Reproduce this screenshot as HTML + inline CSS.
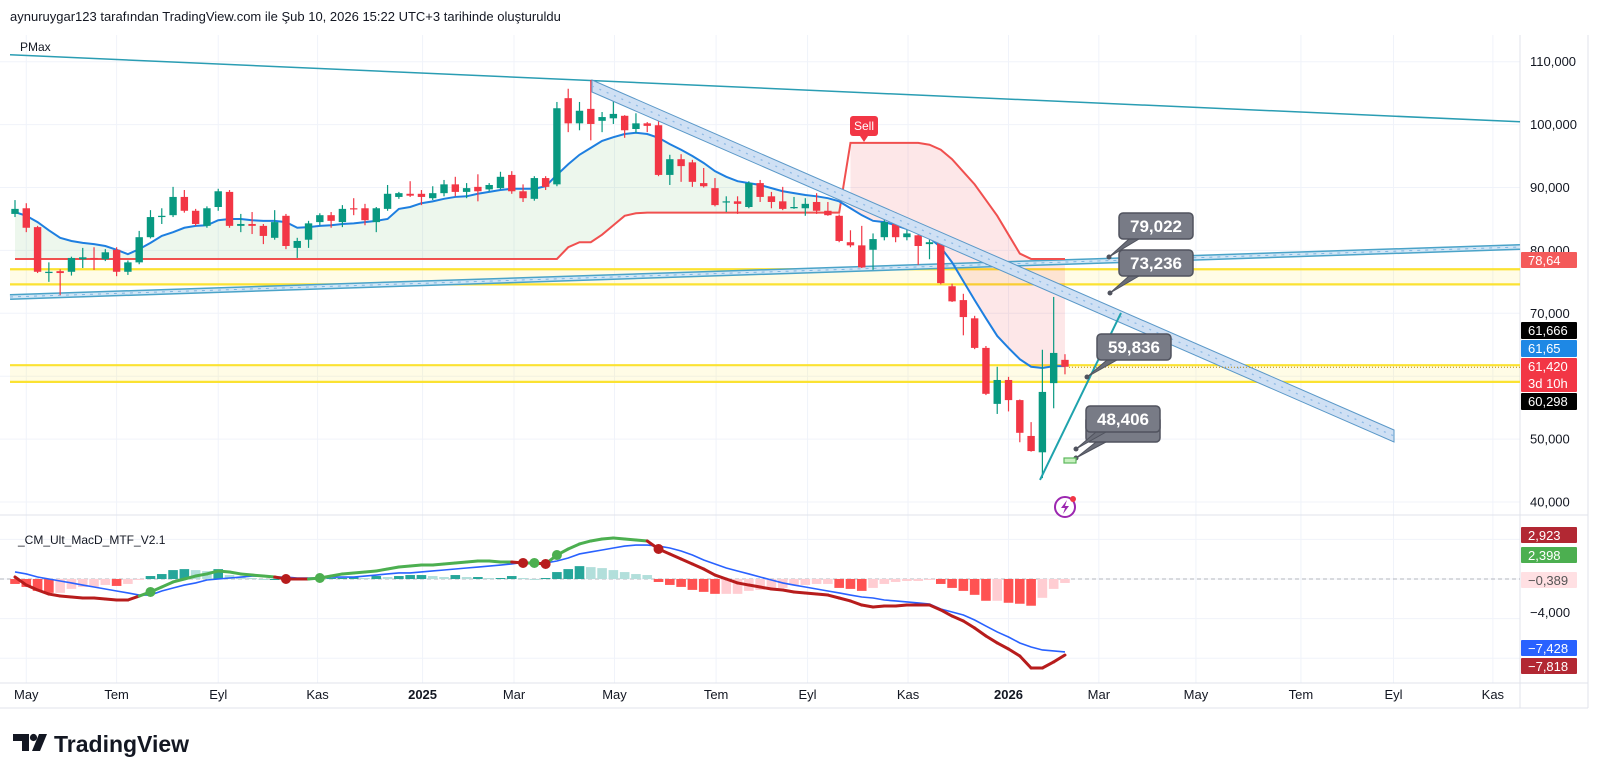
<!DOCTYPE html>
<html><head><meta charset="utf-8"><style>
html,body{margin:0;padding:0;background:#fff;}
svg{display:block;font-family:"Liberation Sans",sans-serif;}
</style></head><body>
<svg id="chart" width="1600" height="776" viewBox="0 0 1600 776" xmlns="http://www.w3.org/2000/svg">
<rect x="0" y="0" width="1600" height="776" fill="#ffffff"/>
<text x="10" y="21" font-size="13" fill="#131722">aynuruygar123 tarafından TradingView.com ile Şub 10, 2026 15:22 UTC+3 tarihinde oluşturuldu</text>
<g id="grid"></g>
<g id="main"></g>
<g id="macd"></g>
<g id="axes"></g>
<text x="20" y="51" font-size="12" fill="#131722">PMax</text>
<text x="18" y="544" font-size="12" fill="#131722">_CM_Ult_MacD_MTF_V2.1</text>
<g>
<path d="M13 734 H29 V751 H22 V741 H13 Z" fill="#131722"/>
<circle cx="33.5" cy="737.5" r="3.6" fill="#131722"/>
<path d="M39 734 H47 L40 751 H32 Z" fill="#131722"/>
<text x="54" y="752" font-size="23" font-weight="bold" fill="#131722">TradingView</text>
</g>
</svg>
<script>
// ---- data (prices in thousands) ----
const opens=[85.8,86.7,83.7,76.4,76.7,76.6,78.6,78.8,78.6,80.1,76.6,78.1,82.1,85.3,85.6,88.5,86.3,83.9,86.9,89.3,83.9,84.2,83.9,82.0,85.5,80.4,81.7,84.5,85.6,84.5,86.7,86.7,84.5,86.6,88.5,89.0,89.0,88.3,89.1,90.5,89.3,90.1,89.7,89.9,92.0,89.4,88.2,91.5,90.5,104.2,100.2,102.5,100.6,101.0,101.4,99.3,100.2,99.9,92.0,94.5,94.0,90.7,89.9,87.7,87.8,86.9,90.7,88.6,87.8,86.7,86.7,87.7,86.3,85.5,81.3,80.8,80.1,82.1,84.2,82.1,82.4,81.0,81.2,74.3,72.1,69.2,64.5,55.6,59.4,56.2,50.5,47.9,58.9,62.6];
const highs=[88.0,87.5,83.9,78.1,77.0,79.0,80.4,80.5,80.2,80.5,78.4,83.1,86.4,86.7,90.1,89.6,86.6,87.0,89.8,89.6,85.8,86.1,84.2,86.4,85.8,82.0,84.7,85.9,86.1,87.2,88.3,87.4,86.9,90.4,89.3,91.0,89.6,90.2,91.2,91.7,90.7,92.1,90.7,92.5,92.6,90.5,91.8,91.8,103.6,105.7,103.6,107.1,102.0,104.4,101.5,101.8,100.4,101.0,95.2,95.3,94.4,93.1,91.5,88.6,88.6,91.0,91.2,89.3,90.1,88.5,88.3,89.1,87.7,85.7,83.2,83.9,82.7,86.4,86.1,83.5,84.0,82.7,81.5,74.7,73.1,69.6,64.8,61.5,59.9,56.3,52.7,64.2,72.6,63.5];
const lows=[85.3,82.9,76.4,75.0,72.9,76.0,77.2,76.9,78.3,75.9,76.1,77.8,81.9,84.2,85.3,86.0,83.9,83.6,86.3,83.6,82.9,82.6,81.0,81.7,80.2,78.8,80.4,84.0,83.6,83.7,85.6,84.0,82.9,86.3,88.2,88.5,87.2,88.0,88.6,88.6,88.3,87.8,89.4,89.7,89.0,87.7,87.9,89.6,90.2,98.8,99.1,97.5,98.8,100.1,97.9,98.7,98.8,91.8,90.4,90.9,90.1,90.0,87.0,86.1,85.8,86.7,87.7,86.7,86.4,86.6,85.5,85.8,85.5,81.3,80.5,77.2,76.9,81.6,81.3,81.6,77.7,78.6,74.6,71.8,66.5,64.3,57.0,54.0,54.4,49.5,48.0,43.8,54.9,60.3];
const closes=[86.6,83.6,76.6,76.6,76.4,78.8,78.9,78.6,79.7,76.6,78.1,82.1,85.3,85.5,88.5,86.3,84.2,86.7,89.4,83.9,84.2,83.9,82.3,84.5,80.7,81.5,84.3,85.6,84.7,86.6,86.6,84.8,86.7,89.0,89.1,88.7,88.5,89.1,90.5,89.3,89.9,89.4,90.4,91.7,89.4,88.3,91.5,90.1,102.6,100.2,102.2,100.1,101.2,101.7,99.1,100.2,99.8,92.0,94.5,93.4,90.9,90.2,87.2,87.8,87.4,90.7,88.5,87.7,86.6,86.9,87.4,86.3,85.6,81.5,80.8,77.3,81.8,84.5,82.1,82.7,80.7,81.3,74.8,71.9,69.4,64.5,57.2,59.4,56.2,51.0,48.1,57.5,63.7,61.5];
const maLine=[86.1,85.5,84.5,83.2,82.0,81.5,81.2,81.0,80.7,80.1,79.4,80.2,81.2,82.3,82.9,83.6,83.9,84.0,84.8,85.0,85.0,84.8,84.7,84.7,84.5,83.6,83.7,83.9,84.0,84.2,84.3,84.5,84.7,85.0,86.6,86.9,87.5,87.8,88.2,88.5,88.6,89.0,89.3,89.6,89.8,89.8,89.8,90.2,92.0,93.7,95.2,96.3,97.4,98.0,98.5,98.7,98.5,97.9,96.9,96.0,95.0,93.9,92.6,91.7,91.0,90.7,90.4,89.9,89.4,89.1,88.8,88.6,88.3,87.8,86.7,85.6,84.7,84.5,84.0,83.4,82.8,82.0,80.5,78.1,75.1,72.1,69.2,66.4,64.5,62.7,61.5,61.3,61.6,61.6];
const pmaxLine=[78.64,78.64,78.64,78.64,78.64,78.64,78.64,78.64,78.64,78.64,78.64,78.64,78.64,78.64,78.64,78.64,78.64,78.64,78.64,78.64,78.64,78.64,78.64,78.64,78.64,78.64,78.64,78.64,78.64,78.64,78.64,78.64,78.64,78.64,78.64,78.64,78.64,78.64,78.64,78.64,78.64,78.64,78.64,78.64,78.64,78.64,78.64,78.64,78.64,80.5,81.3,81.3,82.5,84.0,85.5,85.9,86.0,86.0,86.0,86.0,86.0,86.0,86.0,86.0,86.0,86.0,86.0,86.0,86.0,86.0,86.0,86.0,86.0,86.0,97.1,97.1,97.1,97.1,97.1,97.1,97.1,96.8,96.0,94.5,92.5,90.5,88.0,85.5,82.5,79.5,78.64,78.64,78.64,78.64];
const macdLine=[200,-610,-1110,-1520,-1720,-1820,-1920,-1920,-2020,-2120,-2120,-1720,-1310,-810,-300,0,300,510,810,710,510,400,300,200,0,0,0,100,300,510,610,710,810,1010,1210,1310,1410,1410,1520,1620,1720,1820,1820,1720,1720,1620,1620,1520,2420,3030,3540,3840,4040,4140,4040,3940,3840,3030,2530,2020,1520,1010,400,0,-400,-610,-810,-1010,-1110,-1310,-1410,-1520,-1620,-1920,-2220,-2630,-2830,-2730,-2730,-2630,-2630,-2630,-3130,-3740,-4240,-4950,-5760,-6460,-7070,-7780,-8990,-8990,-8380,-7680];
const signalLine=[710,510,200,0,-200,-400,-610,-810,-1010,-1210,-1410,-1620,-1620,-1210,-910,-610,-400,-100,0,100,200,300,300,200,200,100,100,100,200,200,200,300,400,510,610,610,710,810,910,1010,1110,1210,1310,1410,1520,1680,1620,1620,1820,2120,2530,2730,2930,3130,3330,3430,3430,3330,3130,2830,2420,1920,1520,1110,810,510,200,-100,-400,-610,-810,-1010,-1210,-1410,-1620,-1820,-1920,-2120,-2220,-2320,-2420,-2530,-3030,-3330,-3640,-4140,-4750,-5350,-5860,-6460,-6870,-7170,-7270,-7370];
const histValues=[-500,-800,-1200,-1400,-1400,-1000,-800,-800,-600,-700,-500,-100,300,500,900,1000,900,800,1000,400,200,100,0,0,0,0,100,100,100,100,200,100,300,200,300,400,400,300,200,400,200,200,100,100,300,100,0,100,700,1000,1300,1200,1100,900,700,500,400,-300,-600,-800,-1100,-1300,-1500,-1500,-1500,-1200,-1100,-900,-900,-600,-600,-500,-500,-900,-1000,-1200,-900,-500,-300,-200,-200,-100,-500,-900,-1200,-1600,-2200,-2200,-2400,-2500,-2700,-1900,-1000,-400];
const priceTicks=[110,100,90,80,70,60,50,40];
const priceTickLabels=["110,000","100,000","90,000","80,000","70,000","","50,000","40,000"];
const macdTicks=[4000,0,-4000,-8000];
const timeTickIdx=[1.0,9.0,18.0,26.8,36.1,44.2,53.1,62.1,70.2,79.1,88.0,96.0,104.6,113.9,122.1,130.9];
const timeTickLabels=["May","Tem","Eyl","Kas","2025","Mar","May","Tem","Eyl","Kas","2026","Mar","May","Tem","Eyl","Kas"];

// ---- scales ----
function X(i){return 15+i*11.29;}
function YP(p){return 61.7+(110-p)*6.29;}
function YM(v){return 579-v*0.0099;}
const NS="http://www.w3.org/2000/svg";
function mk(tag,attrs,parent){const e=document.createElementNS(NS,tag);for(const k in attrs)e.setAttribute(k,attrs[k]);parent.appendChild(e);return e;}
const grid=document.getElementById('grid'),main=document.getElementById('main'),macdG=document.getElementById('macd'),axes=document.getElementById('axes');
const RIGHT=1520;

// grid
priceTicks.forEach((p,k)=>{
  const l=mk('line',{x1:0,x2:RIGHT,y1:YP(p),y2:YP(p),stroke:'#f0f3fa','stroke-width':1},grid);
  
  
  if(priceTickLabels[k]){
    const t=mk('text',{x:1530,y:YP(p)+4.5,'font-size':13,fill:'#131722'},axes);
    t.textContent=priceTickLabels[k];
    
    
  }
});
macdTicks.forEach(v=>{
  const l=mk('line',{x1:0,x2:RIGHT,y1:YM(v),y2:YM(v),stroke:'#f0f3fa','stroke-width':1},grid);
  
  
});
timeTickIdx.forEach((ix,k)=>{
  const l=mk('line',{x1:X(ix),x2:X(ix),y1:35,y2:683,stroke:'#f0f3fa','stroke-width':1},grid);
  
  
  const t=mk('text',{x:X(ix),y:699,'font-size':13,fill:'#131722','text-anchor':'middle','font-weight':timeTickLabels[k].length===4&&/\d/.test(timeTickLabels[k])?'bold':'normal'},axes);
  t.textContent=timeTickLabels[k];
  
  
});
// pane borders
[[0,515,1588,515],[0,683,1588,683],[RIGHT,35,RIGHT,708],[1588,35,1588,708],[0,708,1588,708]].forEach(a=>{
  const l=mk('line',{x1:a[0],y1:a[1],x2:a[2],y2:a[3],stroke:'#e0e3eb','stroke-width':1},grid);
  
  
});

// yellow zones
function yband(pTop,pBot,name){
  const r=mk('rect',{x:10,y:YP(pTop),width:RIGHT-10,height:YP(pBot)-YP(pTop),fill:'rgba(255,235,59,0.13)'},main);
  
  
  [pTop,pBot].forEach(p=>{
    const l=mk('line',{x1:10,x2:RIGHT,y1:YP(p),y2:YP(p),stroke:'#fbe232','stroke-width':2.2},main);
    
    
  });
}
yband(77.0,74.6,'resistance-zone');
yband(61.75,59.1,'support-zone');

// pmax fills
function fillBetween(a,b,from,to,color,name){
  let d='M'+X(from)+','+YP(a[from]);
  for(let i=from+1;i<=to;i++)d+=' L'+X(i)+','+YP(a[i]);
  for(let i=to;i>=from;i--)d+=' L'+X(i)+','+YP(b[i]);
  const p=mk('path',{d:d+' Z',fill:color},main);
  
  
}
fillBetween(maLine,pmaxLine,0,73,'rgba(76,175,80,0.10)','pmax-long-fill');
fillBetween(maLine,pmaxLine,74,93,'rgba(242,54,69,0.12)','pmax-short-fill');

// lower ascending trend band
function bandLine(x1,p1,x2,p2,name){
  const g=mk('g',{},main);
  
  
  mk('line',{x1:x1,y1:YP(p1),x2:x2,y2:YP(p2),stroke:'#4aa3c8','stroke-width':6},g);
  mk('line',{x1:x1,y1:YP(p1),x2:x2,y2:YP(p2),stroke:'#d3e6f6','stroke-width':3},g);
  mk('line',{x1:x1,y1:YP(p1),x2:x2,y2:YP(p2),stroke:'#7fb6e0','stroke-width':1,'stroke-dasharray':'3 5'},g);
}
bandLine(10,72.6,RIGHT,80.54,'ascending-trendline');
// upper descending line
const ul=mk('line',{x1:10,y1:YP(111.1),x2:RIGHT,y2:YP(100.45),stroke:'#2a9db3','stroke-width':1.5},main);



// pmax line
let pd='';pmaxLine.forEach((v,i)=>{pd+=(i?' L':'M')+X(i)+','+YP(v);});
const pl=mk('path',{d:pd,fill:'none',stroke:'#f0504f','stroke-width':2},main);


// ma line
let md='';maLine.forEach((v,i)=>{md+=(i?' L':'M')+X(i)+','+YP(v);});
const ml=mk('path',{d:md,fill:'none',stroke:'#1e7fe0','stroke-width':2},main);



// candles
for(let i=0;i<opens.length;i++){
  const up=closes[i]>=opens[i];const c=up?'#089981':'#f23645';
  const g=mk('g',{},main);
  
  
  mk('line',{x1:X(i),x2:X(i),y1:YP(highs[i]),y2:YP(lows[i]),stroke:c,'stroke-width':1.2},g);
  const top=YP(Math.max(opens[i],closes[i])),bot=YP(Math.min(opens[i],closes[i]));
  mk('rect',{x:X(i)-3.7,y:top,width:7.4,height:Math.max(1.2,bot-top),fill:c},g);
}

// descending channel
(function(){
  const g=mk('g',{},main);
  
  
  const x1=592,y1=80,x2=1394,y2=430,h=12;
  mk('path',{d:`M${x1},${y1} L${x2},${y2} L${x2},${y2+h} L${x1},${y1+h} Z`,fill:'#cfe0f4',stroke:'#5a98c8','stroke-width':1},g);
  mk('line',{x1:x1,y1:y1+h/2,x2:x2,y2:y2+h/2,stroke:'#8fbbe6','stroke-width':1.3,'stroke-dasharray':'2 6'},g);
})();
// cyan line
const cl=mk('line',{x1:1040,y1:YP(43.5),x2:1121,y2:YP(70.05),stroke:'#1fa3ad','stroke-width':2},main);



// last price line
const lp=mk('line',{x1:X(93)+4,x2:RIGHT,y1:YP(61.42),y2:YP(61.42),stroke:'#b8860b','stroke-width':1,'stroke-dasharray':'1 2'},main);



// callouts
function callout(bx,by,label,dx,dy,name){
  const g=mk('g',{},main);
  
  
  mk('path',{d:`M${bx+10},${by+26} L${dx},${dy} L${bx+20},${by+26} Z`,fill:'#6a6d78',stroke:'#50535e','stroke-width':1},g);
  mk('rect',{x:bx,y:by,width:74,height:26,rx:4,fill:'#787b86',stroke:'#50535e','stroke-width':1.5},g);
  mk('circle',{cx:dx,cy:dy,r:2.5,fill:'#50535e'},g);
  const t=mk('text',{x:bx+37,y:by+19,'font-size':17,'font-weight':'bold',fill:'#ffffff','text-anchor':'middle'},g);
  t.textContent=label;
}
callout(1086,416,'',1076,458,'callout-box-back');
callout(1086,406,'48,406',1076,449,'callout-48406');
callout(1097,334,'59,836',1087,377,'callout-59836');
callout(1119,250,'73,236',1110,293,'callout-73236');
callout(1119,213,'79,022',1109,257,'callout-79022');
const gr=mk('rect',{x:1064,y:458,width:12,height:5,fill:'#c8f0c0',stroke:'#5cb85c','stroke-width':1.2},main);


const lc=mk('circle',{cx:1065,cy:507,r:10,fill:'#fff',stroke:'#9c27b0','stroke-width':2},main);


const lb=mk('path',{d:'M1067,500 L1061,508 L1065,508 L1063,514 L1069,506 L1065,506 Z',fill:'#9c27b0'},main);


const ld=mk('circle',{cx:1073,cy:499,r:3,fill:'#f23645'},main);



// sell label
(function(){
  const g=mk('g',{},main);
  
  
  mk('path',{d:'M860,136 L864,142 L868,136 Z',fill:'#f23645'},g);
  mk('rect',{x:850,y:116,width:28,height:20,rx:3,fill:'#f23645'},g);
  const t=mk('text',{x:864,y:130,'font-size':12,fill:'#fff','text-anchor':'middle'},g);
  t.textContent='Sell';
})();

// MACD pane
const zl=mk('line',{x1:0,x2:RIGHT,y1:YM(0),y2:YM(0),stroke:'#b2b5be','stroke-width':1,'stroke-dasharray':'4 3'},macdG);


histValues.forEach((v,i)=>{
  const prev=i?histValues[i-1]:0;let c;
  if(v>=0)c=(v>=prev)?'#26a69a':'#b2dfdb';else c=(v<prev)?'#ff5252':'#ffcdd2';
  const y0=YM(0),y1=YM(v);
  const r=mk('rect',{x:X(i)-4.8,y:Math.min(y0,y1),width:9.6,height:Math.max(1,Math.abs(y1-y0)),fill:c},macdG);
  
  
});
let sd='';signalLine.forEach((v,i)=>{sd+=(i?' L':'M')+X(i)+','+YM(v);});
const sl=mk('path',{d:sd,fill:'none',stroke:'#2962ff','stroke-width':1.6},macdG);


for(let i=1;i<macdLine.length;i++){
  const up=macdLine[i]>=signalLine[i];
  const s=mk('line',{x1:X(i-1),y1:YM(macdLine[i-1]),x2:X(i),y2:YM(macdLine[i]),stroke:up?'#4caf50':'#b71c1c','stroke-width':3,'stroke-linecap':'round'},macdG);
  
  
}
for(let i=1;i<macdLine.length;i++){
  const up=macdLine[i]>=signalLine[i],pu=macdLine[i-1]>=signalLine[i-1];
  if(up!==pu){
    const d=mk('circle',{cx:X(i),cy:YM(macdLine[i]),r:5,fill:up?'#4caf50':'#b71c1c'},macdG);
    
    
  }
}

// right axis badges
function badge(y,h,bg,fg,lines,name){
  const g=mk('g',{},axes);
  
  
  mk('rect',{x:1521,y:y,width:56,height:h,fill:bg,rx:1},g);
  lines.forEach((s,k)=>{const t=mk('text',{x:1528,y:y+13+k*17,'font-size':13,fill:fg},g);t.textContent=s;});
}
badge(252,16,'#f45a5a','#fff',['78,64'],'pmax-value-badge');
badge(322,17,'#000000','#fff',['61,666'],'high-value-badge');
badge(340,17,'#1e88e5','#fff',['61,65'],'ma-value-badge');
badge(358,34,'#f23645','#fff',['61,420','3d 10h'],'last-price-badge');
badge(393,17,'#000000','#fff',['60,298'],'low-value-badge');
badge(527,16,'#b22833','#fff',['2,923'],'macd-badge-1');
badge(547,16,'#4caf50','#fff',['2,398'],'macd-badge-2');
badge(572,16,'#ffe0e3','#555',['−0,389'],'histogram-badge');
const m4=mk('text',{x:1530,y:617,'font-size':13,fill:'#131722'},axes);
m4.textContent='−4,000';


badge(640,16,'#2962ff','#fff',['−7,428'],'signal-value-badge');
badge(658,16,'#b22833','#fff',['−7,818'],'macd-value-badge');
</script>
</body></html>
